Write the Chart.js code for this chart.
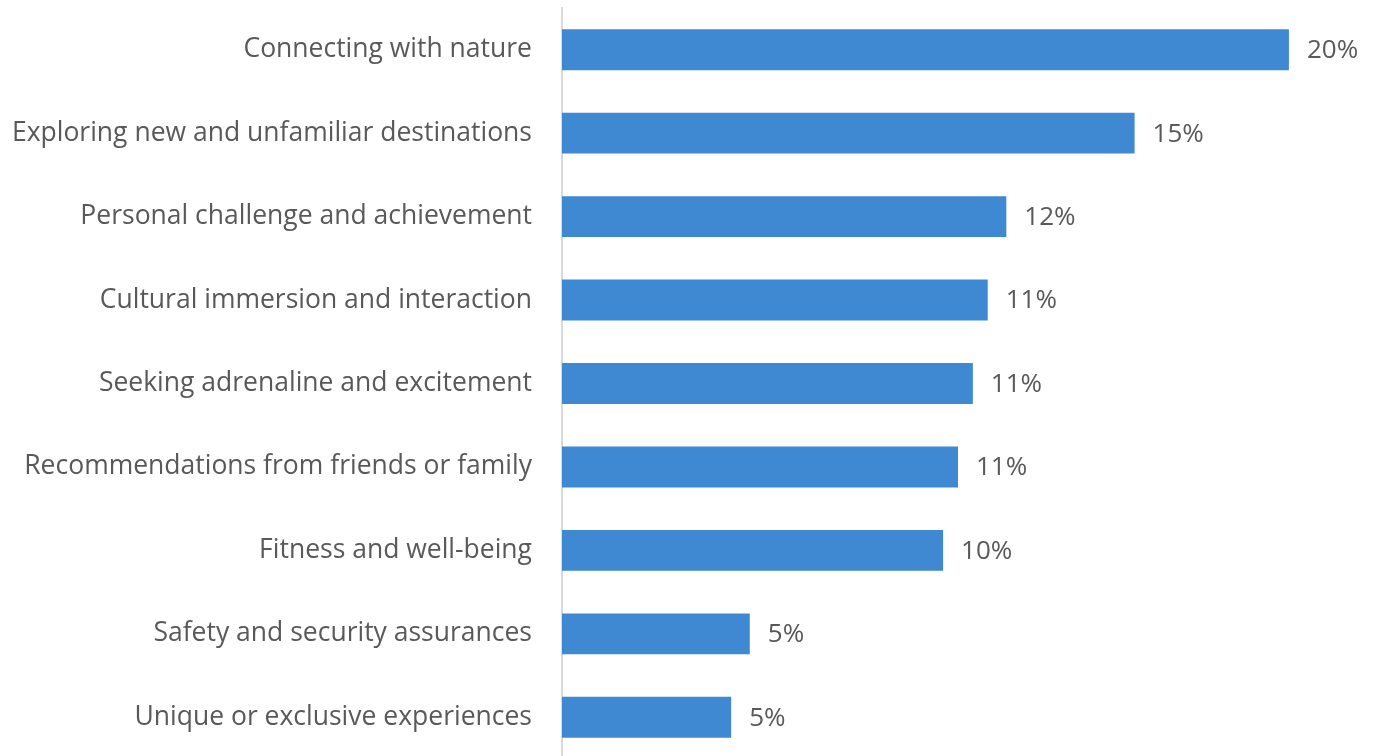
<!DOCTYPE html>
<html lang="en">
<head>
  <meta charset="UTF-8" />
  <title>Travel motivations</title>
  <script src="https://cdn.jsdelivr.net/npm/chart.js@4.4.1"></script>
  <style>
    html, body { margin:0; padding:0; background:#fff; overflow:hidden; }
    .wrap { width:1380px; height:756px; overflow:hidden; }
  </style>
</head>
<body>
<div class="wrap">
  <canvas id="myChart" width="1380" height="760"></canvas>
</div>

<script>
  var motives = [
    'Connecting with nature',
    'Exploring new and unfamiliar destinations',
    'Personal challenge and achievement',
    'Cultural immersion and interaction',
    'Seeking adrenaline and excitement',
    'Recommendations from friends or family',
    'Fitness and well-being',
    'Safety and security assurances',
    'Unique or exclusive experiences'
  ];
  // share of respondents, in percent
  var shares = [19.55, 15.4, 11.95, 11.45, 11.05, 10.65, 10.25, 5.05, 4.55];

  var FONT = '"Open Sans", sans-serif';
  var GREY = '#595959';

  // percent label just right of every bar
  var barLabels = {
    id:'barLabels',
    afterDatasetsDraw: function(chart){
      var c = chart.ctx;
      var meta = chart.getDatasetMeta(0);
      c.save();
      c.font = '26px ' + FONT;
      c.fillStyle = GREY;
      c.textAlign = 'left';
      c.textBaseline = 'middle';
      meta.data.forEach(function(bar, i){
        c.fillText(Math.round(shares[i]) + '%', bar.x + 18, bar.y + 1);
      });
      c.restore();
    }
  };

  new Chart(document.getElementById('myChart'), {
    type:'bar',
    data:{
      labels:motives,
      datasets:[{
        data:shares,
        backgroundColor:'#3E89D1',
        barPercentage:0.49,
        categoryPercentage:1
      }]
    },
    options:{
      indexAxis:'y',
      responsive:false,
      animation:false,
      layout:{ padding:{ top:8, bottom:1, left:0, right:0 } },
      plugins:{ legend:{ display:false }, tooltip:{ enabled:false } },
      scales:{
        x:{ display:false, min:0, max:22 },
        y:{
          grid:{ display:false, drawTicks:false },
          border:{ display:true, color:'#d9d9d9', width:2 },
          ticks:{ color:GREY, padding:30, font:{ family:FONT, size:26.5 } },
          afterFit:function(s){
            s.width = 562;
            s.paddingTop = 0;
            s.paddingBottom = 0;
          }
        }
      }
    },
    plugins:[barLabels]
  });
</script>
</body>
</html>
